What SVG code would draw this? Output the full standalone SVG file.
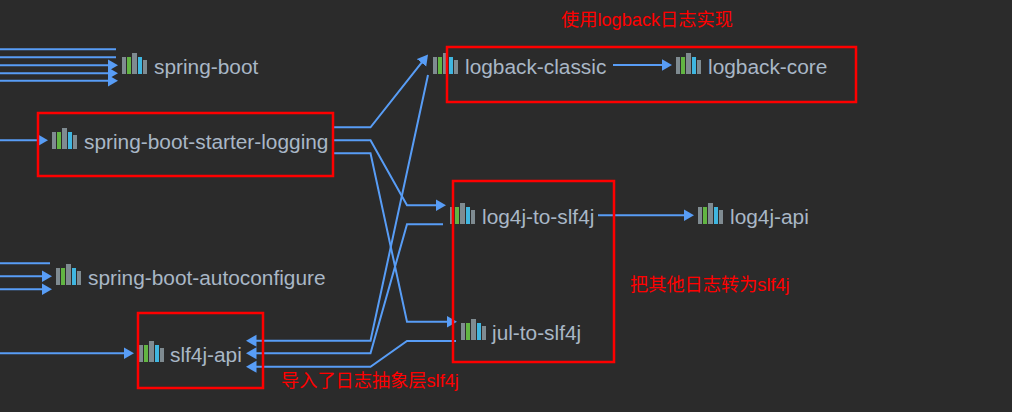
<svg xmlns="http://www.w3.org/2000/svg" width="1012" height="412" viewBox="0 0 1012 412">
<style>
.lbl{font-family:"Liberation Sans",Arial,sans-serif;font-size:20.85px;fill:#a9b7c6}
.note{font-family:"Liberation Sans","Noto Sans CJK SC",sans-serif;font-size:18.2px;fill:#f00}
.box{fill:none;stroke:#f00;stroke-width:2.500}
.c{fill:none;stroke:#589df6;stroke-width:2}
.a{marker-end:url(#arr)}
</style>
<defs>
<marker id="arr" markerUnits="userSpaceOnUse" markerWidth="13" markerHeight="14" refX="4" refY="6.500" orient="auto"><path d="M0 0.500L10.500 6.500L0 12.500Z" fill="#589df6"/></marker>
<g id="ico">
<rect x="0" y="4" width="4" height="17" fill="#7f8b91"/>
<rect x="5" y="4" width="4" height="17" fill="#62b543"/>
<rect x="10" y="0" width="5" height="21" fill="#7f8b91"/>
<rect x="16" y="4" width="4" height="17" fill="#40b6e0"/>
<rect x="21" y="7" width="4" height="14" fill="#7f8b91"/>
</g>
</defs>
<rect width="1012" height="412" fill="#2b2b2b"/>
<g id="connectors">
<path class="c" d="M0 49.300H116"/>
<path class="c" d="M0 57.300H116"/>
<path class="c a" d="M0 65.300H111.500"/>
<path class="c a" d="M0 73.300H111.500"/>
<path class="c a" d="M0 80.800H111.500"/>
<path class="c a" d="M0 140.300H41.500"/>
<path class="c" d="M0 263.300H50"/>
<path class="c a" d="M0 276.300H45.500"/>
<path class="c a" d="M0 289.300H45.500"/>
<path class="c a" d="M0 353.300H127.500"/>
<path class="c a" d="M333 127.300H370.500L424 59.600"/>
<path class="c a" d="M333 140.300H370.500L407 205.300H439.500"/>
<path class="c a" d="M333 153.300H370.500L407 321.700H450.500"/>
<path class="c a" d="M428 75L370.500 340.700H252.500"/>
<path class="c a" d="M443 224.300H407L370.500 353.300H252.500"/>
<path class="c a" d="M456 341H407L370.500 366.700H252.500"/>
<path class="c a" d="M598 215.300H687.500"/>
<path class="c a" d="M613 65H665.500"/>
</g>
<g id="spring-boot"><use href="#ico" x="122" y="53"/><text class="lbl" x="154" y="74">spring-boot</text></g>
<g id="spring-boot-starter-logging"><use href="#ico" x="52" y="128"/><text class="lbl" x="84" y="149">spring-boot-starter-logging</text><rect class="box" x="38" y="113" width="295" height="63"/></g>
<g id="spring-boot-autoconfigure"><use href="#ico" x="56" y="264"/><text class="lbl" x="88" y="285">spring-boot-autoconfigure</text></g>
<g id="slf4j-api"><use href="#ico" x="139" y="341"/><text class="lbl" x="170" y="362">slf4j-api</text><rect class="box" x="138" y="313" width="125" height="75"/></g>
<g id="logback-classic"><use href="#ico" x="433" y="53"/><text class="lbl" x="465" y="74">logback-classic</text></g>
<g id="logback-core"><use href="#ico" x="676" y="53"/><text class="lbl" x="708" y="74">logback-core</text></g>
<g id="logback-group"><rect class="box" x="447" y="47" width="409" height="55"/><text class="note" x="561" y="26">使用logback日志实现</text></g>
<g id="log4j-to-slf4j"><use href="#ico" x="450" y="203"/><text class="lbl" x="482" y="224">log4j-to-slf4j</text></g>
<g id="log4j-api"><use href="#ico" x="698" y="203"/><text class="lbl" x="730" y="224">log4j-api</text></g>
<g id="jul-to-slf4j"><use href="#ico" x="461" y="319"/><text class="lbl" x="492" y="340">jul-to-slf4j</text></g>
<g id="bridge-group"><rect class="box" x="453" y="181" width="161" height="181"/><text class="note" x="630" y="291">把其他日志转为slf4j</text></g>
<text class="note" x="281" y="387">导入了日志抽象层slf4j</text>
</svg>
